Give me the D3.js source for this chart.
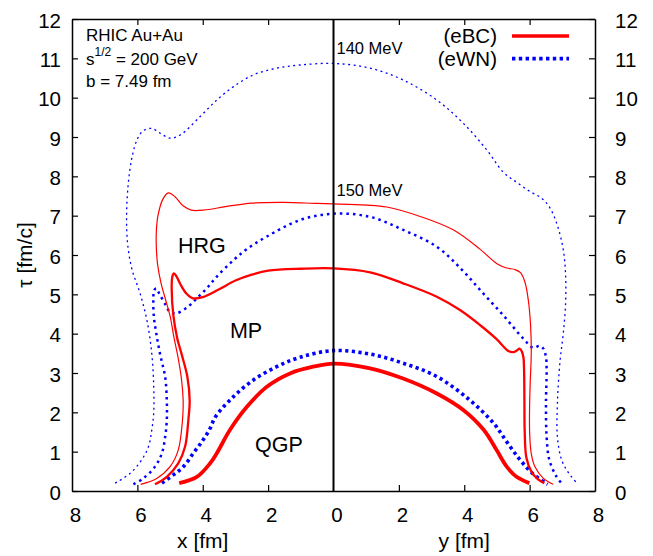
<!DOCTYPE html>
<html>
<head>
<meta charset="utf-8">
<script src="https://cdn.jsdelivr.net/npm/d3@7"></script>
<style>
  html, body { margin: 0; padding: 0; background: #fff; }
  svg { display: block; font-family: "Liberation Sans", Arial, sans-serif; }
</style>
</head>
<body>
<div id="chart"></div>
<script>
// Contours as [distance in fm, tau in fm/c].
// "X" arrays run along the x axis (left half), "Y" arrays along the y axis (right half).

// eBC, thick red: QGP boundary
const bcQgpX = [[4.72,0.2],[4.18,0.36],[3.78,0.7],[3.57,0.96],[3.17,1.55],[2.65,2.14],[2.04,2.65],[1.33,2.99],[0.62,3.16],[0,3.24]];
const bcQgpY = [[0,3.24],[1.12,3.12],[2.13,2.86],[3.16,2.48],[3.97,2.06],[4.6,1.55],[4.99,1.04],[5.3,0.62],[5.6,0.36],[5.99,0.2]];

// eBC, medium red: MP / HRG boundary
const bcMpX = [[5.46,0.17],[5.1,0.36],[4.75,0.7],[4.54,1.13],[4.44,1.81],[4.4,2.3],[4.47,2.9],[4.64,3.46],[4.78,3.88],[4.9,4.47],[4.95,5.15],[4.93,5.45],[4.88,5.53],[4.8,5.45],[4.68,5.25],[4.5,5.02],[4.3,4.9],[4.0,4.93],[3.5,5.13],[3.0,5.35],[2.5,5.5],[2.0,5.6],[1.0,5.65],[0,5.66]];
const bcMpY = [[0,5.66],[1.12,5.56],[2.13,5.28],[3.16,4.94],[3.87,4.6],[4.48,4.22],[4.99,3.86],[5.35,3.56],[5.5,3.53],[5.62,3.58],[5.69,3.62],[5.76,3.55],[5.81,3.4],[5.83,3.08],[5.84,2.3],[5.85,1.5],[5.9,0.85],[6.05,0.5],[6.25,0.3],[6.45,0.2]];

// eBC, thin red: outer (150 MeV) contour
const bcHrgX = [[5.9,0.17],[5.41,0.32],[5.0,0.62],[4.75,1.04],[4.62,1.8],[4.6,2.3],[4.66,2.9],[4.77,3.46],[4.88,3.9],[5.0,4.45],[5.15,4.9],[5.28,5.3],[5.38,5.75],[5.42,6.2],[5.42,6.6],[5.37,7.0],[5.22,7.42],[5.05,7.58],[4.85,7.48],[4.6,7.25],[4.35,7.14],[3.9,7.15],[3.3,7.23],[2.5,7.32],[1.5,7.34],[0.5,7.31],[0,7.3]];
const bcHrgY = [[0,7.3],[1.0,7.27],[1.63,7.22],[2.65,6.98],[3.66,6.64],[4.48,6.15],[5.0,5.78],[5.3,5.67],[5.55,5.63],[5.72,5.55],[5.86,5.3],[5.96,4.85],[6.03,4.2],[6.05,3.5],[6.02,2.8],[6.0,2.2],[6.0,1.5],[6.05,0.95],[6.16,0.62],[6.42,0.32],[6.72,0.17]];

// eWN, thick blue dots: QGP boundary
const wnQgpX = [[5.25,0.2],[4.9,0.41],[4.59,0.62],[4.29,0.96],[4.03,1.25],[3.8,1.55],[3.6,1.9],[3.06,2.4],[2.45,2.82],[1.74,3.16],[1.02,3.4],[0,3.57]];
const wnQgpY = [[0,3.57],[1.12,3.48],[2.13,3.25],[3.16,2.91],[4.17,2.31],[4.9,1.72],[5.3,1.25],[5.7,0.8],[6.11,0.43],[6.55,0.17]];

// eWN, medium blue dots
const wnHrgX = [[6.12,0.17],[5.82,0.32],[5.46,0.62],[5.25,0.96],[5.15,1.38],[5.1,1.8],[5.1,2.3],[5.15,2.9],[5.3,3.46],[5.42,4.0],[5.5,4.47],[5.51,4.9],[5.49,5.1],[5.42,5.15],[5.33,5.02],[5.15,4.75],[5.0,4.55],[4.8,4.52],[4.49,4.66],[4.18,4.9],[3.88,5.15],[3.57,5.45],[3.06,5.87],[2.65,6.15],[2.04,6.47],[1.02,6.89],[0,7.05]];
const wnHrgY = [[0,7.05],[1.12,6.97],[2.13,6.64],[3.16,6.21],[3.9,5.65],[4.53,5.07],[5.19,4.47],[5.8,3.88],[6.11,3.64],[6.3,3.69],[6.42,3.62],[6.5,3.4],[6.52,3.08],[6.5,2.23],[6.52,1.38],[6.6,0.8],[6.8,0.4],[7.0,0.17]];

// eWN, thin blue dots: outer (140 MeV) contour
const wnFoX = [[6.68,0.2],[6.22,0.45],[5.87,0.79],[5.66,1.13],[5.56,1.55],[5.5,2.0],[5.5,2.65],[5.56,3.5],[5.71,4.35],[5.92,5.03],[6.17,5.65],[6.3,6.3],[6.33,7.0],[6.28,7.8],[6.16,8.5],[6.0,8.95],[5.82,9.16],[5.56,9.22],[5.31,9.1],[5.0,8.97],[4.69,9.05],[4.08,9.52],[3.57,9.94],[3.06,10.28],[2.45,10.58],[1.74,10.75],[1.02,10.83],[0,10.87]];
const wnFoY = [[0,10.87],[1.12,10.75],[2.13,10.45],[3.16,9.94],[3.97,9.35],[4.69,8.67],[5.2,8.1],[5.6,7.85],[6.0,7.62],[6.37,7.44],[6.62,7.2],[6.85,6.75],[7.03,6.13],[7.1,5.5],[7.1,4.77],[7.03,4.01],[6.93,3.3],[6.85,2.23],[6.85,1.38],[6.98,0.79],[7.2,0.45],[7.48,0.17]];

const X_TICKS = [-8, -6, -4, -2, 0, 2, 4, 6, 8];
const TAU_TICKS = d3.range(0, 13);
const LEGEND = ['(eBC)', '(eWN)'];
const INFO_LINES = ['RHIC Au+Au', 'b = 7.49 fm'];
// label, x [fm] on the left half, tau
const PHASES = [['HRG', 4.76, 6.05], ['MP', 3.17, 3.89], ['QGP', 2.4, 1.0]];
const TEMPS = [['140 MeV', 11.1], ['150 MeV', 7.5]];

const WIDTH = 653;
const HEIGHT = 556;
const MARGIN = { top: 19, right: 58, bottom: 65, left: 72 };

const svg = d3.select('#chart').append('svg')
    .attr('width', WIDTH)
    .attr('height', HEIGHT);

// signed scale: x side is drawn at negative values, y side at positive
const xScale = d3.scaleLinear().domain([-8, 8]).range([MARGIN.left, WIDTH - MARGIN.right]);
const yScale = d3.scaleLinear().domain([0, 12]).range([HEIGHT - MARGIN.bottom, MARGIN.top]);

const contours = [
    { x: wnFoX, y: wnFoY, color: '#0000ff', width: 1.3, dash: '2,3.5' },
    { x: wnHrgX, y: wnHrgY, color: '#0000ff', width: 2.5, dash: '2.5,4' },
    { x: wnQgpX, y: wnQgpY, color: '#0000ff', width: 3.6, dash: '3.2,3.4' },
    { x: bcHrgX, y: bcHrgY, color: '#ff0000', width: 1.2, dash: null },
    { x: bcMpX, y: bcMpY, color: '#ff0000', width: 2.3, dash: null },
    { x: bcQgpX, y: bcQgpY, color: '#ff0000', width: 3.8, dash: null },
];

const line = d3.line()
    .x((d) => xScale(d[0]))
    .y((d) => yScale(d[1]))
    .curve(d3.curveCatmullRom.alpha(0.5));

svg.append('g').selectAll('path')
    .data(contours)
    .join('path')
    .attr('d', (c) => line(c.x.map((p) => [-p[0], p[1]]).concat(c.y.slice(1))))
    .attr('fill', 'none')
    .attr('stroke', (c) => c.color)
    .attr('stroke-width', (c) => c.width)
    .attr('stroke-dasharray', (c) => c.dash);

// frame and axes
const innerTicks = X_TICKS.filter((d) => Math.abs(d) !== 8 && d !== 0);
const styleAxis = (g) => {
    g.select('.domain').attr('stroke', '#000').attr('stroke-width', 1.5);
    g.selectAll('.tick line').attr('stroke', '#000').attr('stroke-width', 1.2);
    g.selectAll('text').attr('fill', '#000').attr('font-size', '20.5px').attr('font-family', '"Liberation Sans", Arial, sans-serif');
};

svg.append('g')
    .attr('transform', `translate(0,${yScale(0)})`)
    .call(d3.axisBottom(xScale).tickValues(X_TICKS).tickFormat((d) => Math.abs(d)).tickSizeInner(0).tickSizeOuter(0).tickPadding(16))
    .call(styleAxis)
    .call((g) => g.selectAll('text').attr('dx', 3));
svg.append('g')
    .attr('transform', `translate(0,${yScale(0)})`)
    .call(d3.axisBottom(xScale).tickValues(innerTicks).tickFormat('').tickSizeInner(-6).tickSizeOuter(0))
    .call(styleAxis)
    .call((g) => g.select('.domain').remove());
svg.append('g')
    .attr('transform', `translate(0,${yScale(12)})`)
    .call(d3.axisTop(xScale).tickValues(innerTicks).tickFormat('').tickSizeInner(-6).tickSizeOuter(0))
    .call(styleAxis);
svg.append('g')
    .attr('transform', `translate(${xScale(-8)},0)`)
    .call(d3.axisLeft(yScale).tickValues(TAU_TICKS).tickSizeInner(-6).tickSizeOuter(0).tickPadding(11))
    .call(styleAxis)
    .call((g) => g.selectAll('text').attr('dy', '0.4em'));
svg.append('g')
    .attr('transform', `translate(${xScale(8)},0)`)
    .call(d3.axisRight(yScale).tickValues(TAU_TICKS).tickSizeInner(-6).tickSizeOuter(0).tickPadding(20))
    .call(styleAxis)
    .call((g) => g.selectAll('text').attr('dy', '0.4em'));

// x = y = 0 line between the two halves
svg.append('line')
    .attr('x1', xScale(0)).attr('x2', xScale(0))
    .attr('y1', yScale(0)).attr('y2', yScale(12))
    .attr('stroke', '#000')
    .attr('stroke-width', 2);

// axis titles
svg.append('text')
    .attr('x', xScale(-4)).attr('y', 548)
    .attr('text-anchor', 'middle').attr('font-size', '21px')
    .text('x [fm]');
svg.append('text')
    .attr('x', xScale(4)).attr('y', 548)
    .attr('text-anchor', 'middle').attr('font-size', '21px')
    .text('y [fm]');
svg.append('text')
    .attr('transform', `translate(32,${yScale(6)}) rotate(-90)`)
    .attr('text-anchor', 'middle').attr('font-size', '21px')
    .text('τ [fm/c]');

// collision info, top left
const info = svg.append('g').attr('font-size', '17px');
info.append('text').attr('x', 86).attr('y', 41).text(INFO_LINES[0]);
const sLine = info.append('text').attr('x', 86).attr('y', 65);
sLine.append('tspan').text('s');
sLine.append('tspan').attr('dy', -9).attr('font-size', '12px').text('1/2');
sLine.append('tspan').attr('dy', 9).text(' = 200 GeV');
info.append('text').attr('x', 86).attr('y', 87).text(INFO_LINES[1]);

// temperature labels next to the contour tops
svg.append('g').selectAll('text')
    .data(TEMPS)
    .join('text')
    .attr('x', xScale(0) + 3)
    .attr('y', (d) => yScale(d[1]))
    .attr('font-size', '16.5px')
    .text((d) => d[0]);

// phase labels
svg.append('g').selectAll('text')
    .data(PHASES)
    .join('text')
    .attr('x', (d) => xScale(-d[1]))
    .attr('y', (d) => yScale(d[2]))
    .attr('font-size', '21.5px')
    .text((d) => d[0]);

// legend
const legend = svg.append('g');
LEGEND.forEach((label, i) => {
    const y = 36 + i * 22.6;
    const c = contours[i === 0 ? 5 : 2];
    legend.append('text')
        .attr('x', 497).attr('y', y + 7)
        .attr('text-anchor', 'end').attr('font-size', '20.5px')
        .text(label);
    legend.append('line')
        .attr('x1', 512).attr('x2', 569)
        .attr('y1', y).attr('y2', y)
        .attr('stroke', c.color)
        .attr('stroke-width', i === 0 ? 3.6 : 3.8)
        .attr('stroke-dasharray', i === 0 ? null : '3.4,3.4');
});
</script>
</body>
</html>
